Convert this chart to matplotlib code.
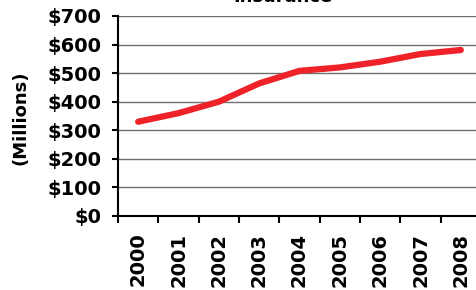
#!/usr/bin/env python
# -*- coding: utf-8 -*-

import matplotlib
matplotlib.use('Agg')
from matplotlib import pyplot as plt
from matplotlib.ticker import FixedLocator, FuncFormatter

years = ['2000', '2001', '2002', '2003', '2004', '2005', '2006', '2007', '2008']
values = [330, 360, 400, 464, 508, 520, 540, 567, 581]
yticks = [0, 100, 200, 300, 400, 500, 600, 700]
title = 'Insurance'
ylabel = '(Millions)'


def main():
    plt.rcParams['font.family'] = ['DejaVu Sans']
    plt.rcParams['font.weight'] = 'bold'

    W, H = 476, 290
    fig = plt.figure(figsize=(W / 100, H / 100), dpi=100)
    ax = fig.add_axes([118 / W, 1 - 216 / H, (481 - 118) / W, 200 / H])

    x = list(range(len(years)))
    ax.plot(x, values, color='#ee2228', linewidth=4.5,
            solid_capstyle='round', solid_joinstyle='round', zorder=3)

    ax.set_xlim(-0.5, len(years) - 0.5)
    ax.set_ylim(0, 700)
    ax.set_yticks(yticks)
    ax.yaxis.set_major_formatter(FuncFormatter(lambda v, p: '$%d' % v))
    ax.grid(axis='y', color='#707070', linewidth=1.0)
    ax.set_axisbelow(True)

    ax.set_xticks(x)
    ax.set_xticklabels(years, rotation=90, fontsize=14, fontweight='bold')
    ax.xaxis.set_minor_locator(FixedLocator([i - 0.5 for i in range(len(years) + 1)]))
    ax.tick_params(axis='x', which='major', length=0, pad=12)
    ax.tick_params(axis='x', which='minor', length=5, width=1.5, direction='out')
    ax.tick_params(axis='y', length=4, width=1.5, pad=8, labelsize=14)
    for lbl in ax.get_yticklabels():
        lbl.set_fontweight('bold')

    for s in ['top', 'right']:
        ax.spines[s].set_visible(False)
    for s in ['left', 'bottom']:
        ax.spines[s].set_linewidth(1.5)
        ax.spines[s].set_color('black')

    fig.text(21 / W, 1 - 118 / H, ylabel, rotation=90, fontsize=13,
             fontweight='bold', ha='center', va='center')
    fig.text(283 / W, 1 - 2 / H, title, fontsize=13, fontweight='bold',
             ha='center', va='baseline')

    fig.savefig('out.png', dpi=100)


if __name__ == '__main__':
    main()
